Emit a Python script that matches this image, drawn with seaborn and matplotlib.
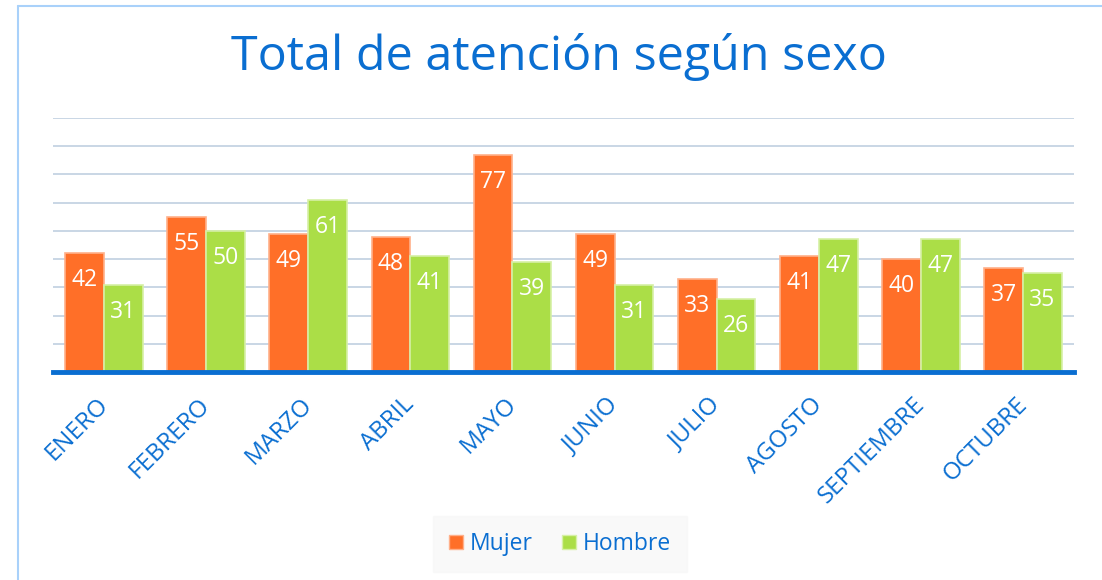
import matplotlib
matplotlib.use("Agg")
import matplotlib.pyplot as plt
import matplotlib.transforms as mtransforms
import seaborn as sns
import pandas as pd
import numpy as np
from matplotlib.patches import Patch

months = ["ENERO", "FEBRERO", "MARZO", "ABRIL", "MAYO", "JUNIO", "JULIO",
          "AGOSTO", "SEPTIEMBRE", "OCTUBRE"]
mujer = [42, 55, 49, 48, 77, 49, 33, 41, 40, 37]
hombre = [31, 50, 61, 41, 39, 31, 26, 47, 47, 35]
series = ["Mujer", "Hombre"]
colors = ["#FF6F28", "#ABDE47"]
edge_colors = ["#FFB08A", "#D6F0A6"]

df = pd.DataFrame({
    "Mes": months * 2,
    "Valor": mujer + hombre,
    "Sexo": [series[0]] * len(months) + [series[1]] * len(months),
})

sns.set_theme(style="white")
plt.rcParams["font.family"] = ["Open Sans", "DejaVu Sans"]
blue = "#0A6ED1"

fig = plt.figure(figsize=(11.02, 5.8), dpi=100)
ax = fig.add_axes([53 / 1102, 1 - 372 / 580, (1074 - 53) / 1102, (372 - 118) / 580])

sns.barplot(data=df, x="Mes", y="Valor", hue="Sexo", palette=colors,
            width=0.76, ax=ax, legend=False, saturation=1)

for container, ec in zip(ax.containers, edge_colors):
    for bar in container:
        bar.set_edgecolor(ec)
        bar.set_linewidth(1.2)
        h = bar.get_height()
        ax.annotate(f"{int(h)}", (bar.get_x() + bar.get_width() / 2, h),
                    xytext=(0, -27), textcoords="offset pixels",
                    ha="center", va="center", color="white", fontsize=16.5)

ax.set_ylim(0, 90)
ax.set_xlim(-0.5, len(months) - 0.5)
ax.set_yticks(np.arange(10, 91, 10))
ax.set_yticklabels([])
ax.tick_params(axis="y", length=0)
ax.yaxis.grid(True, color="#C5D3E3", linewidth=1.3)
ax.set_axisbelow(True)
for s in ["top", "right", "left"]:
    ax.spines[s].set_visible(False)
ax.spines["bottom"].set_color(blue)
ax.spines["bottom"].set_linewidth(3.5)
ax.set_xlabel("")
ax.set_ylabel("")
ax.tick_params(axis="x", length=0, pad=15)
shift = mtransforms.ScaledTranslation(-8 / 100, 0, fig.dpi_scale_trans)
for lbl in ax.get_xticklabels():
    lbl.set_rotation(45)
    lbl.set_ha("right")
    lbl.set_rotation_mode("anchor")
    lbl.set_color(blue)
    lbl.set_fontsize(17.3)
    lbl.set_transform(lbl.get_transform() + shift)

fig.text(559 / 1102, 1 - 57 / 580, "Total de atención según sexo", ha="center",
         va="center", color=blue, fontsize=34.8)

# frame
fig.add_artist(plt.Line2D([18 / 1102, 18 / 1102], [0, 1 - 6 / 580],
                          color="#A9D1FA", linewidth=1.5, transform=fig.transFigure))
fig.add_artist(plt.Line2D([18 / 1102, 1], [1 - 6 / 580, 1 - 6 / 580],
                          color="#A9D1FA", linewidth=1.5, transform=fig.transFigure))

handles = [Patch(facecolor=c, edgecolor=e, label=s) for c, e, s in zip(colors, edge_colors, series)]
leg = fig.legend(handles=handles, loc="center", bbox_to_anchor=(560 / 1102, 1 - 544 / 580),
                 ncol=2, frameon=True, fontsize=16.5, handlelength=0.6, handleheight=0.6,
                 handletextpad=0.3, columnspacing=1.3, borderpad=0.4)
leg.get_frame().set_facecolor("#F8F8F8")
leg.get_frame().set_edgecolor("#F8F8F8")
leg.get_frame().set_boxstyle("square")
for t in leg.get_texts():
    t.set_color(blue)

fig.savefig("out.png", dpi=100)
